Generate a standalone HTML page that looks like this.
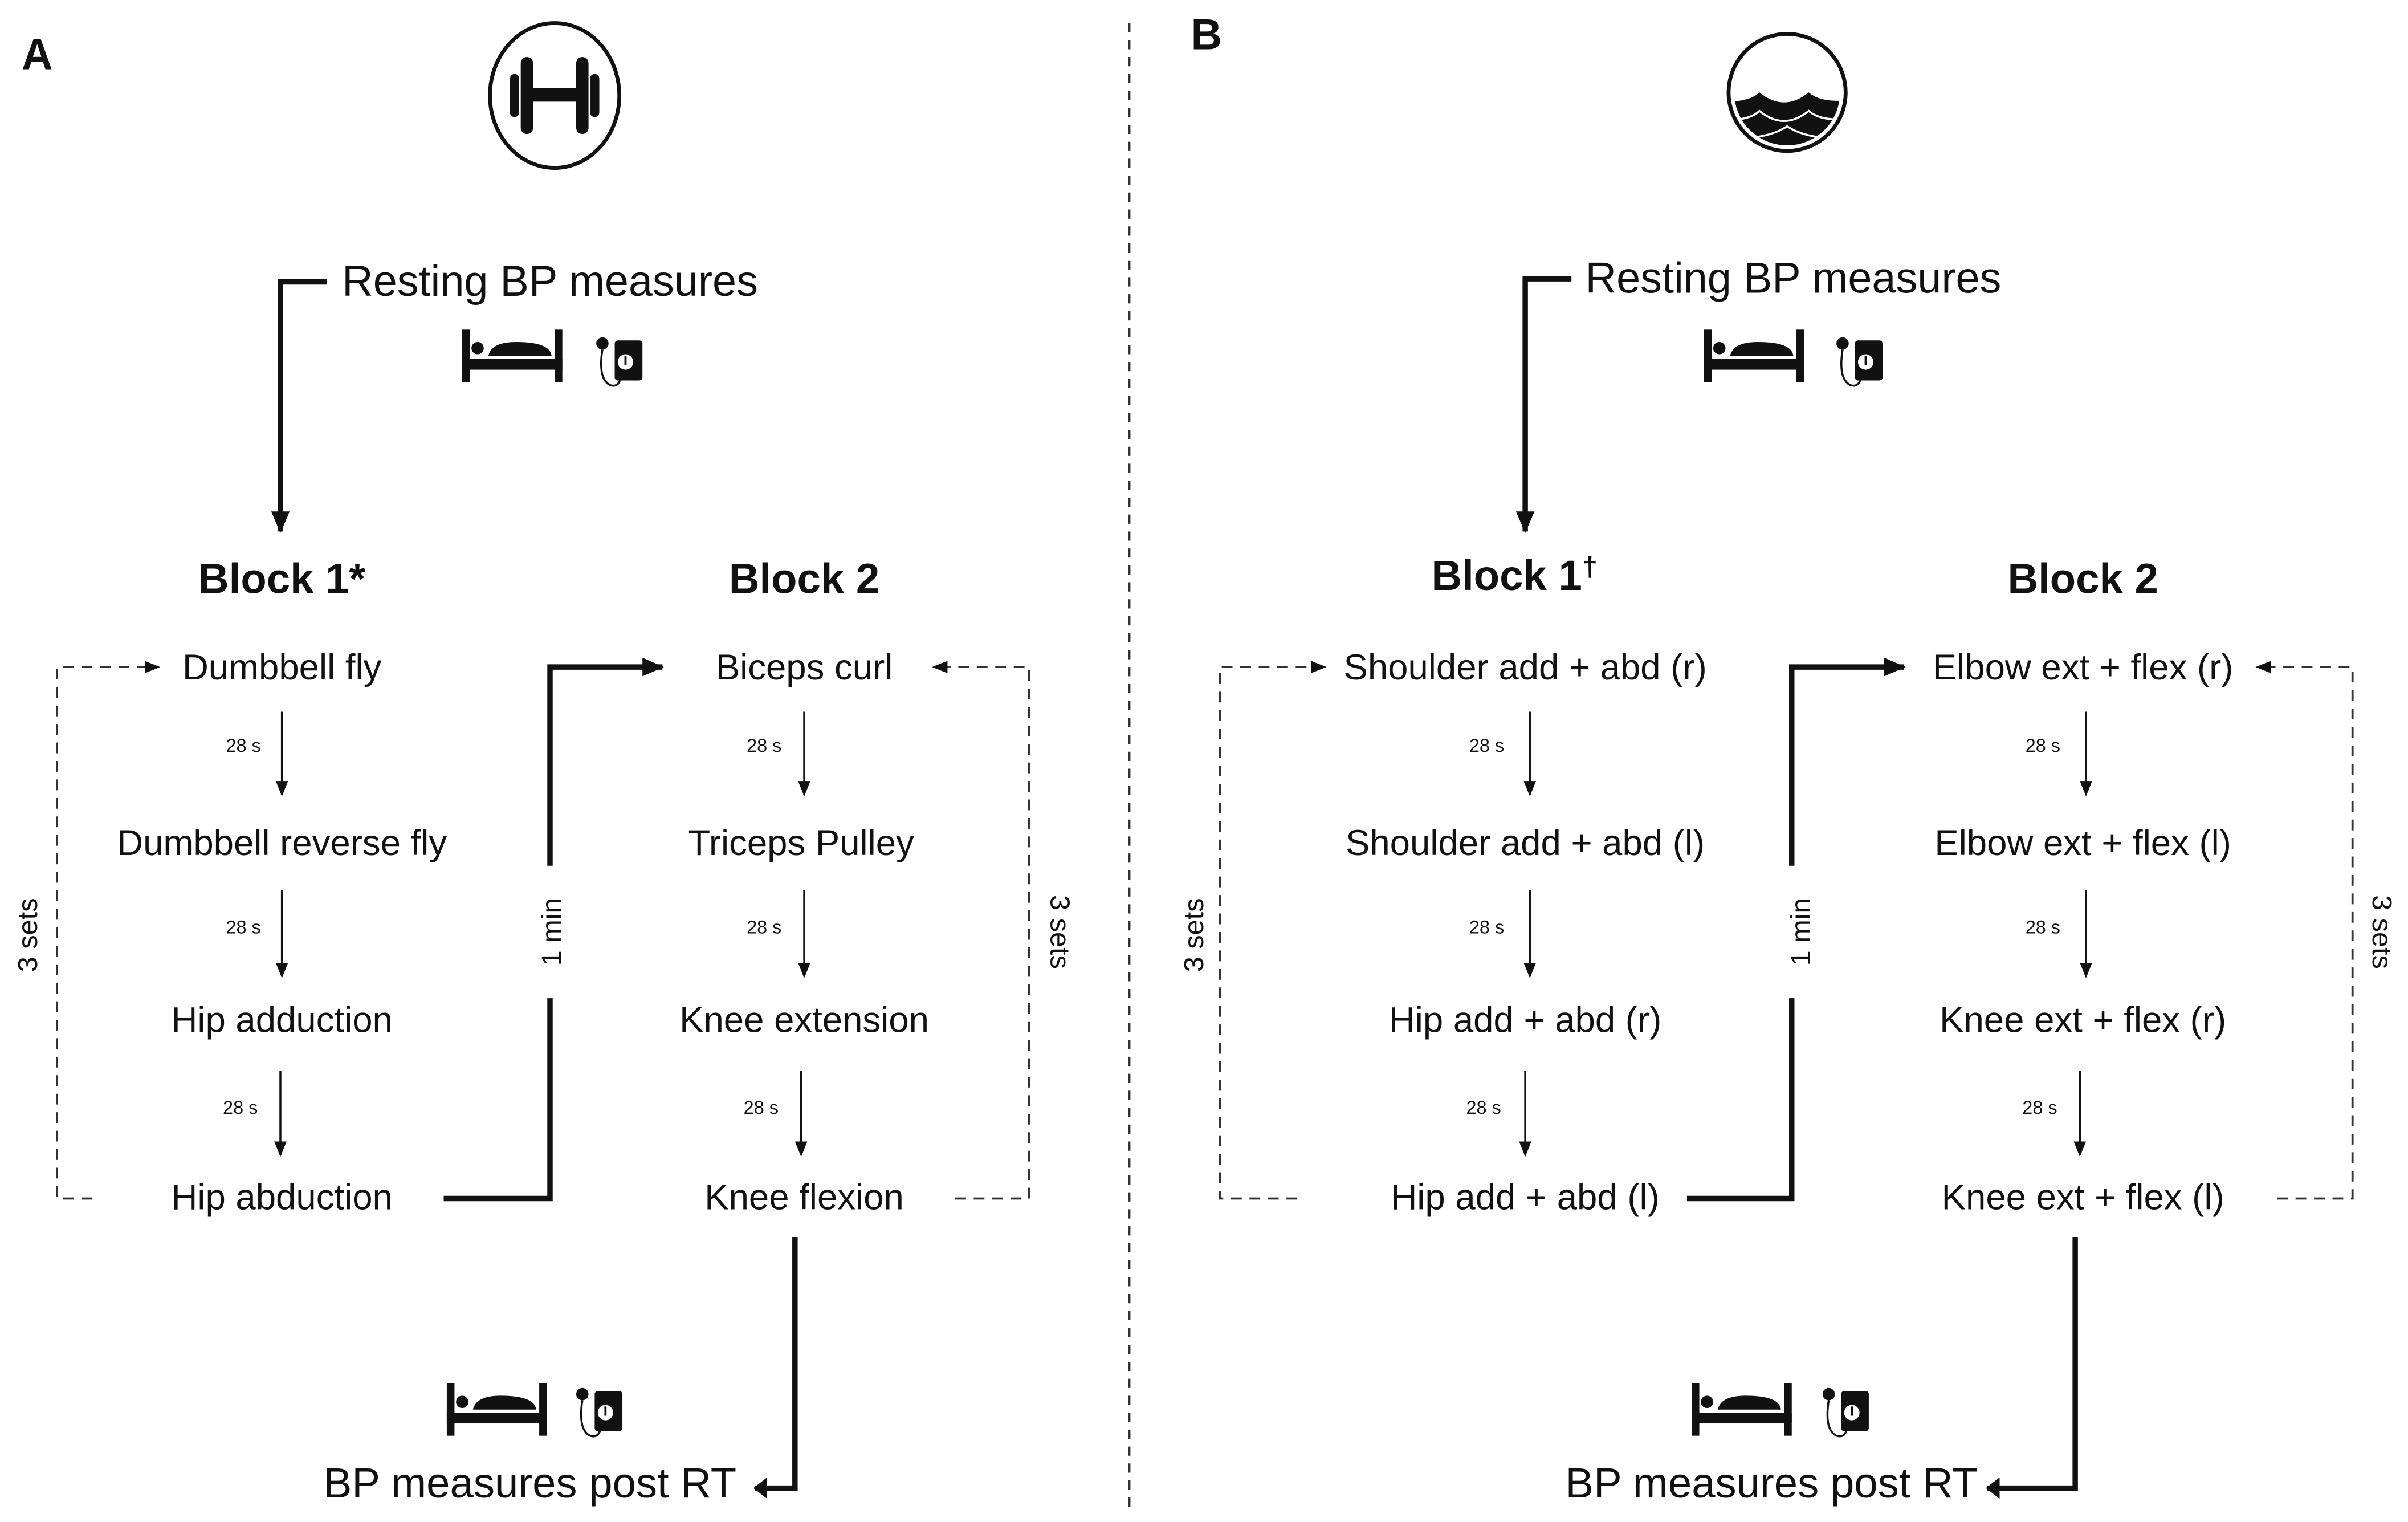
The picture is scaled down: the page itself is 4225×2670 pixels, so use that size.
<!DOCTYPE html>
<html><head><meta charset="utf-8"><style>
html,body{margin:0;padding:0;background:#fff;}
svg{display:block;}
text{font-family:"Liberation Sans",Arial,sans-serif;fill:#111;}
</style></head><body>
<svg width="4225" height="2670" viewBox="0 0 1563 988" preserveAspectRatio="none" xmlns="http://www.w3.org/2000/svg">
<defs>
<marker id="a" markerWidth="10" markerHeight="10" refX="9" refY="5" orient="auto" markerUnits="userSpaceOnUse"><path d="M0,1 L10,5 L0,9 Z" fill="#111"/></marker>
<marker id="ab" markerWidth="14" markerHeight="14" refX="13" refY="7" orient="auto" markerUnits="userSpaceOnUse"><path d="M0,1 L14,7 L0,13 Z" fill="#111"/></marker>
<marker id="as" markerWidth="9" markerHeight="14" refX="8" refY="7" orient="auto" markerUnits="userSpaceOnUse"><path d="M0,0 L9,7 L0,14 Z" fill="#111"/></marker>
<g id="bed">
<rect x="0" y="0" width="5" height="34" fill="#111"/>
<rect x="60" y="0" width="5" height="34" fill="#111"/>
<rect x="0" y="19" width="65" height="7" fill="#111"/>
<circle cx="10" cy="12" r="4" fill="#111"/>
<path d="M17,17 Q19,8 35,8 Q57,8 58,17 Z" fill="#111"/>
</g>
<g id="cuff">
<rect x="13" y="5" width="18" height="26" rx="2" fill="#111"/>
<circle cx="20" cy="19" r="5" fill="#fff"/><rect x="19.3" y="15" width="1.4" height="6" fill="#111"/>
<circle cx="5" cy="7" r="4" fill="#111"/><rect x="4" y="3" width="2" height="3" fill="#111"/>
<path d="M5,11 Q2,30 10,34 Q16,36 17,28" fill="none" stroke="#111" stroke-width="1.3"/>
</g>
</defs>

<line x1="733" y1="15" x2="733" y2="982" stroke="#333" stroke-width="1.5" stroke-dasharray="6,5"/>

<text x="14" y="45" font-size="28" font-weight="bold">A</text>
<text x="773" y="32" font-size="28" font-weight="bold">B</text>

<!-- dumbbell icon -->
<ellipse cx="360" cy="62" rx="42" ry="47" fill="none" stroke="#111" stroke-width="2.5"/>
<rect x="345" y="57" width="30" height="9" fill="#111"/>
<rect x="338" y="37" width="8" height="50" rx="4" fill="#111"/>
<rect x="374" y="37" width="8" height="50" rx="4" fill="#111"/>
<rect x="331" y="48" width="6" height="28" rx="3" fill="#111"/>
<rect x="383" y="48" width="6" height="28" rx="3" fill="#111"/>

<!-- water icon -->
<clipPath id="wc"><circle cx="1160" cy="60" r="35"/></clipPath>
<g clip-path="url(#wc)">
<path d="M1120,66 Q1136,66 1142,60 Q1158,73 1174,60 Q1182,67 1200,65 L1200,110 L1120,110 Z" fill="#111"/>
<path d="M1120,78 Q1136,78 1142,72 Q1158,85 1174,72 Q1182,79 1200,77" fill="none" stroke="#fff" stroke-width="1.3"/>
<path d="M1125,90 Q1148,90 1160,82 Q1172,90 1195,90" fill="none" stroke="#fff" stroke-width="1.3"/>
</g>
<circle cx="1160" cy="60" r="35" fill="none" stroke="#fff" stroke-width="1.3"/>
<circle cx="1160" cy="60" r="38" fill="none" stroke="#111" stroke-width="2.5"/>

<!-- ===== Panel A ===== -->
<text x="222" y="192" font-size="28" textLength="270">Resting BP measures</text>
<polyline points="212,183 182,183 182,345" fill="none" stroke="#111" stroke-width="3.5" marker-end="url(#ab)"/>
<use href="#bed" x="300" y="214"/>
<use href="#cuff" x="386" y="216"/>

<text x="183" y="385" font-size="27.5" font-weight="bold" text-anchor="middle">Block 1*</text>
<text x="522" y="385" font-size="27.5" font-weight="bold" text-anchor="middle">Block 2</text>

<g font-size="23.5" text-anchor="middle">
<text x="183" y="441">Dumbbell fly</text>
<text x="183" y="555">Dumbbell reverse fly</text>
<text x="183" y="670">Hip adduction</text>
<text x="183" y="785">Hip abduction</text>
<text x="522" y="441">Biceps curl</text>
<text x="520" y="555">Triceps Pulley</text>
<text x="522" y="670">Knee extension</text>
<text x="522" y="785">Knee flexion</text>
</g>
<g stroke="#111" stroke-width="1.3" marker-end="url(#a)">
<line x1="183" y1="462" x2="183" y2="516"/>
<line x1="183" y1="578" x2="183" y2="634"/>
<line x1="182" y1="695" x2="182" y2="750"/>
<line x1="522" y1="462" x2="522" y2="516"/>
<line x1="522" y1="578" x2="522" y2="634"/>
<line x1="520" y1="695" x2="520" y2="750"/>
</g>
<g font-size="12" text-anchor="middle">
<text x="158" y="488">28 s</text><text x="158" y="606">28 s</text><text x="156" y="723">28 s</text>
<text x="496" y="488">28 s</text><text x="496" y="606">28 s</text><text x="494" y="723">28 s</text>
</g>
<polyline points="60,778 37,778 37,433 103,433" fill="none" stroke="#333" stroke-width="1.4" stroke-dasharray="7,5" marker-end="url(#a)"/>
<polyline points="620,778 668,778 668,433 606,433" fill="none" stroke="#333" stroke-width="1.4" stroke-dasharray="7,5" marker-end="url(#a)"/>
<text transform="translate(24,607) rotate(-90)" font-size="18" text-anchor="middle">3 sets</text>
<text transform="translate(682,605) rotate(90)" font-size="18" text-anchor="middle">3 sets</text>
<polyline points="288,778 357,778 357,648" fill="none" stroke="#111" stroke-width="3.5"/>
<polyline points="357,562 357,433 430,433" fill="none" stroke="#111" stroke-width="3.5" marker-end="url(#ab)"/>
<text transform="translate(364,605) rotate(-90)" font-size="18" text-anchor="middle">1 min</text>
<polyline points="516,803 516,966 490,966" fill="none" stroke="#111" stroke-width="3.5" marker-end="url(#as)"/>
<use href="#bed" x="290" y="898"/>
<use href="#cuff" x="373" y="898"/>
<text x="478" y="972" font-size="27.5" text-anchor="end">BP measures post RT</text>

<!-- ===== Panel B ===== -->
<text x="1029" y="190" font-size="28" textLength="270">Resting BP measures</text>
<polyline points="1020,181 990,181 990,345" fill="none" stroke="#111" stroke-width="3.5" marker-end="url(#ab)"/>
<use href="#bed" x="1106" y="214"/>
<use href="#cuff" x="1191" y="216"/>

<text x="983" y="383" font-size="27.5" font-weight="bold" text-anchor="middle">Block 1<tspan font-size="18" dy="-9">†</tspan></text>
<text x="1352" y="385" font-size="27.5" font-weight="bold" text-anchor="middle">Block 2</text>

<g font-size="23.5" text-anchor="middle">
<text x="990" y="441">Shoulder add + abd (r)</text>
<text x="990" y="555">Shoulder add + abd (l)</text>
<text x="990" y="670">Hip add + abd (r)</text>
<text x="990" y="785">Hip add + abd (l)</text>
<text x="1352" y="441">Elbow ext + flex  (r)</text>
<text x="1352" y="555">Elbow ext  + flex  (l)</text>
<text x="1352" y="670">Knee ext + flex  (r)</text>
<text x="1352" y="785">Knee ext + flex  (l)</text>
</g>
<g stroke="#111" stroke-width="1.3" marker-end="url(#a)">
<line x1="993" y1="462" x2="993" y2="516"/>
<line x1="993" y1="578" x2="993" y2="634"/>
<line x1="990" y1="695" x2="990" y2="750"/>
<line x1="1354" y1="462" x2="1354" y2="516"/>
<line x1="1354" y1="578" x2="1354" y2="634"/>
<line x1="1350" y1="695" x2="1350" y2="750"/>
</g>
<g font-size="12" text-anchor="middle">
<text x="965" y="488">28 s</text><text x="965" y="606">28 s</text><text x="963" y="723">28 s</text>
<text x="1326" y="488">28 s</text><text x="1326" y="606">28 s</text><text x="1324" y="723">28 s</text>
</g>
<polyline points="842,778 792,778 792,433 860,433" fill="none" stroke="#333" stroke-width="1.4" stroke-dasharray="7,5" marker-end="url(#a)"/>
<polyline points="1478,778 1527,778 1527,433 1465,433" fill="none" stroke="#333" stroke-width="1.4" stroke-dasharray="7,5" marker-end="url(#a)"/>
<text transform="translate(781,607) rotate(-90)" font-size="18" text-anchor="middle">3 sets</text>
<text transform="translate(1540,605) rotate(90)" font-size="18" text-anchor="middle">3 sets</text>
<polyline points="1095,778 1163,778 1163,648" fill="none" stroke="#111" stroke-width="3.5"/>
<polyline points="1163,562 1163,433 1236,433" fill="none" stroke="#111" stroke-width="3.5" marker-end="url(#ab)"/>
<text transform="translate(1175,605) rotate(-90)" font-size="18" text-anchor="middle">1 min</text>
<polyline points="1347,803 1347,966 1290,966" fill="none" stroke="#111" stroke-width="3.5" marker-end="url(#as)"/>
<use href="#bed" x="1098" y="898"/>
<use href="#cuff" x="1182" y="898"/>
<text x="1284" y="972" font-size="27.5" text-anchor="end">BP measures post RT</text>
</svg>
</body></html>
